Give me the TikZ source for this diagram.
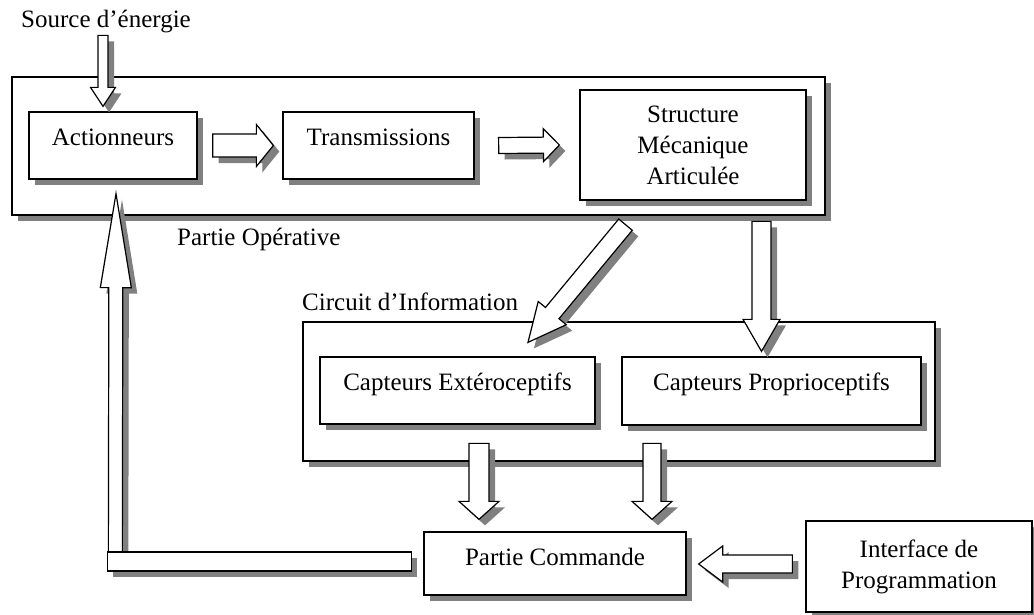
\documentclass[tikz,border=0pt]{standalone}
\usepackage{fontspec}
\setmainfont{Liberation Serif}
\usetikzlibrary{calc}
\usetikzlibrary{shadows}
\usetikzlibrary{positioning}

\tikzset{
    boxshadow/.style={drop shadow={shadow xshift=6pt, shadow yshift=-6pt, fill=black!50, opacity=1}},
    box/.style={draw, fill=white, line width=1.3pt, boxshadow, inner sep=0pt, align=center},
    topbox/.style={box, text height=33pt},
    blockarrow/.style={draw, fill=white, line width=1.2pt, boxshadow},
    grouptitle/.style={inner sep=0pt}
}

% block arrow: tail, tip, shaft half width, head half width, head length
\newcommand{\blockarrow}[5]{%
    \coordinate (ba-h) at ($(#2)!#5!(#1)$);
    \draw [blockarrow]
        ($(#1)!#3!90:(#2)$) -- ($(ba-h)!#3!90:(#2)$) -- ($(ba-h)!#4!90:(#2)$) -- (#2)
        -- ($(ba-h)!#4!-90:(#2)$) -- ($(ba-h)!#3!-90:(#2)$) -- ($(#1)!#3!-90:(#2)$) -- cycle;
}

\begin{document}
\begin{tikzpicture}[x=1pt, y=-1pt, every node/.style={font=\fontsize{25}{31}\selectfont}]
        \useasboundingbox (0,0) rectangle (1034,614);
        % Partie operative
        \node [box, minimum width=813pt, minimum height=138pt] (oper) at (418.5,146) {};
        \node [topbox, minimum width=168pt, minimum height=67pt, text depth=34pt] (act) at (113,145.5) {Actionneurs};
        \node [topbox, minimum width=191pt, minimum height=67pt, text depth=34pt] (trans) at (378.5,145.5) {Transmissions};
        \node [box, minimum width=226pt, minimum height=110pt] (struct) at (693,145) {Structure\\Mécanique\\Articulée};
        % circuit d'information
        \node [box, minimum width=632pt, minimum height=139pt] (circuit) at (619,391.5) {};
        \node [topbox, minimum width=275pt, minimum height=67pt, text depth=34pt] (capext) at (457.5,390.5) {Capteurs Extéroceptifs};
        \node [topbox, minimum width=299pt, minimum height=68pt, text depth=35pt] (cappro) at (771.5,391) {Capteurs Proprioceptifs};
        % commande
        \node [topbox, minimum width=262pt, minimum height=63pt, text depth=30pt] (cmd) at (555,563.5) {Partie Commande};
        \node [box, minimum width=226pt, minimum height=91pt] (iface) at (919,566.5) {Interface de\\Programmation};
        % titles
        \node [grouptitle, anchor=base west] (srctxt) at (21,27) {Source d’énergie};
        \node [grouptitle, anchor=base west] (opertxt) at (177,245) {Partie Opérative};
        \node [grouptitle, anchor=base west] (circtxt) at (302,310) {Circuit d’Information};
        % arrows
        \coordinate (a0s) at ($(act.north)+(-10,-76)$);
        \coordinate (a0e) at ($(act.north)+(-10,-5)$);
        \blockarrow{a0s}{a0e}{5pt}{12.5pt}{19pt}
        \coordinate (a1s) at ($(act.east)+(15,0)$);
        \coordinate (a1e) at ($(trans.west)+(-9,0)$);
        \blockarrow{a1s}{a1e}{11.5pt}{21pt}{17pt}
        \coordinate (a2s) at ($(trans.east)+(24,0)$);
        \coordinate (a2e) at ($(struct.west)+(-20,0)$);
        \blockarrow{a2s}{a2e}{8pt}{16.5pt}{16pt}
        \coordinate (a3s) at ($(struct.south)+(-67.5,24)$);
        \coordinate (a3e) at ($(capext.north)+(70.5,-14)$);
        \blockarrow{a3s}{a3e}{8.8pt}{18.2pt}{38pt}
        \coordinate (a4s) at ($(cappro.north)+(-10,-135)$);
        \coordinate (a4e) at ($(cappro.north)+(-10,-5)$);
        \blockarrow{a4s}{a4e}{9.5pt}{18.5pt}{32pt}
        \coordinate (a5s) at ($(cmd.north)+(-76,-88)$);
        \coordinate (a5e) at ($(cmd.north)+(-76,-12)$);
        \blockarrow{a5s}{a5e}{10pt}{20pt}{18pt}
        \coordinate (a6s) at ($(cmd.north)+(97,-88)$);
        \coordinate (a6e) at ($(cmd.north)+(97,-12)$);
        \blockarrow{a6s}{a6e}{9pt}{20pt}{18pt}
        \coordinate (a7s) at ($(iface.west)+(-13,-2.5)$);
        \coordinate (a7e) at ($(cmd.east)+(12,0.5)$);
        \blockarrow{a7s}{a7e}{9pt}{18pt}{24pt}
        % feedback to the actuators
        \coordinate (fbs) at ($(cmd.west)+(-308,-11.5)$);
        \coordinate (fbe) at ($(act.south)+(3,14)$);
        \blockarrow{fbs}{fbe}{7pt}{15.5pt}{94pt}
        \coordinate (fb1) at ($(cmd.west)+(-316,-11.5)$);
        \coordinate (fb2) at ($(cmd.west)+(-12,7.5)$);
        \draw [blockarrow] (fb1) rectangle (fb2);
    \end{tikzpicture}
\end{document}
